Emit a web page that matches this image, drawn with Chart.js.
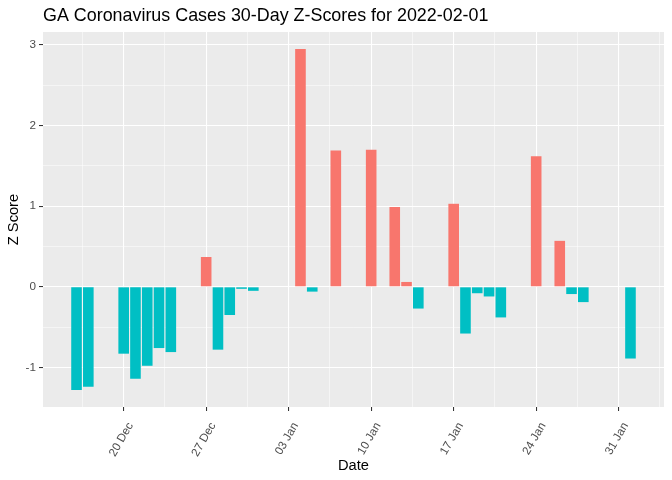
<!DOCTYPE html>
<html>
<head>
<meta charset="utf-8">
<script src="https://cdn.jsdelivr.net/npm/chart.js@4.4.1/dist/chart.umd.min.js"></script>
<style>
  html, body { margin: 0; padding: 0; background: #ffffff; }
  #wrap { width: 672px; height: 480px; position: relative; }
</style>
</head>
<body>
<div id="wrap"><canvas id="c"></canvas></div>
<script>
// Dates (ISO) and 30-day z-scores
const dates = [
  '2021-12-16','2021-12-17','2021-12-20','2021-12-21','2021-12-22','2021-12-23','2021-12-24',
  '2021-12-27','2021-12-28','2021-12-29','2021-12-30','2021-12-31',
  '2022-01-04','2022-01-05','2022-01-07',
  '2022-01-10','2022-01-12','2022-01-13','2022-01-14',
  '2022-01-17','2022-01-18','2022-01-19','2022-01-20','2022-01-21',
  '2022-01-24','2022-01-26','2022-01-27','2022-01-28',
  '2022-02-01'
];
const zScores = [
  -1.28, -1.24, -0.83, -1.14, -0.98, -0.76, -0.81,
  0.37, -0.78, -0.35, -0.025, -0.05,
  2.95, -0.06, 1.69,
  1.70, 0.99, 0.06, -0.27,
  1.03, -0.58, -0.08, -0.12, -0.38,
  1.62, 0.57, -0.09, -0.19,
  -0.89
];
const xTickDates = ['2021-12-20','2021-12-27','2022-01-03','2022-01-10','2022-01-17','2022-01-24','2022-01-31'];
const xTickLabels = ['20 Dec','27 Dec','03 Jan','10 Jan','17 Jan','24 Jan','31 Jan'];
const yTickValues = [-1, 0, 1, 2, 3];

const DAY = 86400000;
const origin = Date.UTC(2021, 11, 16);
const dayNum = s => Math.round((Date.parse(s + 'T00:00:00Z') - origin) / DAY);

const xs = dates.map(dayNum);
const points = xs.map((x, i) => ({ x: x, y: zScores[i] }));
const colors = zScores.map(v => v > 0 ? '#F8766D' : '#00BFC4');

// ggplot-like expansion (5%) of data range incl. bar half-width 0.45
const xLo = Math.min(...xs) - 0.45, xHi = Math.max(...xs) + 0.45;
const xPad = (xHi - xLo) * 0.05;
const yLo = Math.min(0, ...zScores), yHi = Math.max(0, ...zScores);
const yPad = (yHi - yLo) * 0.05;

const xMajor = xTickDates.map(dayNum);
const xLabelMap = {};
xMajor.forEach((v, i) => xLabelMap[v] = xTickLabels[i]);
const xAll = [];
for (let k = -10; k <= 20; k++) {
  const maj = xMajor[0] + 7 * k;
  const min = maj - 3.5;
  if (min >= xLo - xPad && min <= xHi + xPad) xAll.push(min);
  if (maj >= xLo - xPad && maj <= xHi + xPad) xAll.push(maj);
}
xAll.sort((a, b) => a - b);
const yAll = [];
for (let v = -3; v <= 6; v += 0.5) {
  if (v >= yLo - yPad && v <= yHi + yPad) yAll.push(v);
}
const isMajorX = v => xLabelMap[v] !== undefined;
const isMajorY = v => Math.abs(v - Math.round(v)) < 1e-9;

const titlePlugin = {
  id: 'ggTitle',
  beforeDraw(chart) {
    const ctx = chart.ctx;
    const a = chart.chartArea;
    ctx.save();
    ctx.fillStyle = '#EBEBEB';
    ctx.fillRect(a.left, a.top, a.right - a.left, a.bottom - a.top);
    ctx.restore();
  },
  afterDraw(chart) {
    const ctx = chart.ctx;
    ctx.save();
    ctx.font = '17.9px "Liberation Sans", Arial, sans-serif';
    ctx.fillStyle = '#000000';
    ctx.textBaseline = 'middle';
    ctx.textAlign = 'left';
    ctx.fillText('GA Coronavirus Cases 30-Day Z-Scores for 2022-02-01', chart.chartArea.left, 16.5);
    ctx.restore();
  }
};

new Chart(document.getElementById('c'), {
  type: 'bar',
  data: {
    datasets: [{
      data: points,
      backgroundColor: colors,
      borderWidth: 0,
      barPercentage: 0.9,
      categoryPercentage: 1.0
    }]
  },
  options: {
    responsive: true,
    maintainAspectRatio: false,
    animation: false,
    layout: { padding: { top: 32, right: 8, left: 0, bottom: 0 } },
    plugins: { legend: { display: false }, tooltip: { enabled: false } },
    scales: {
      x: {
        type: 'linear',
        min: xLo - xPad,
        max: xHi + xPad,
        offset: false,
        afterBuildTicks: s => { s.ticks = xAll.map(v => ({ value: v })); },
        afterFit: s => { s.height = 73; s.paddingLeft = 0; s.paddingRight = 0; },
        border: { display: false },
        grid: {
          offset: false,
          color: '#FFFFFF',
          lineWidth: c => (c.tick && isMajorX(c.tick.value)) ? 1.07 : 0.53,
          tickColor: c => (c.tick && isMajorX(c.tick.value)) ? '#333333' : 'rgba(0,0,0,0)',
          tickLength: 4,
          drawTicks: true
        },
        ticks: {
          autoSkip: false,
          minRotation: 60,
          maxRotation: 60,
          padding: 9,
          labelOffset: 7,
          color: '#4D4D4D',
          font: { family: '"Liberation Sans", Arial, sans-serif', size: 11.7 },
          callback: v => xLabelMap[v] || ''
        },
        title: {
          display: true,
          text: 'Date',
          color: '#000000',
          font: { family: '"Liberation Sans", Arial, sans-serif', size: 14.67 },
          padding: { top: 0, bottom: 5 }
        }
      },
      y: {
        type: 'linear',
        min: yLo - yPad,
        max: yHi + yPad,
        afterBuildTicks: s => { s.ticks = yAll.map(v => ({ value: v })); },
        afterFit: s => { s.width = 43; s.paddingTop = 0; s.paddingBottom = 0; },
        border: { display: false },
        grid: {
          offset: false,
          color: '#FFFFFF',
          lineWidth: c => (c.tick && isMajorY(c.tick.value)) ? 1.07 : 0.53,
          tickColor: c => (c.tick && isMajorY(c.tick.value)) ? '#333333' : 'rgba(0,0,0,0)',
          tickLength: 4,
          drawTicks: true
        },
        ticks: {
          autoSkip: false,
          padding: 3,
          color: '#4D4D4D',
          font: { family: '"Liberation Sans", Arial, sans-serif', size: 11.7 },
          callback: v => (isMajorY(v) && yTickValues.includes(Math.round(v))) ? String(Math.round(v)) : ''
        },
        title: {
          display: true,
          text: 'Z Score',
          color: '#000000',
          font: { family: '"Liberation Sans", Arial, sans-serif', size: 14.67 },
          padding: { top: 5, bottom: 0 }
        }
      }
    }
  },
  plugins: [titlePlugin]
});
</script>
</body>
</html>
